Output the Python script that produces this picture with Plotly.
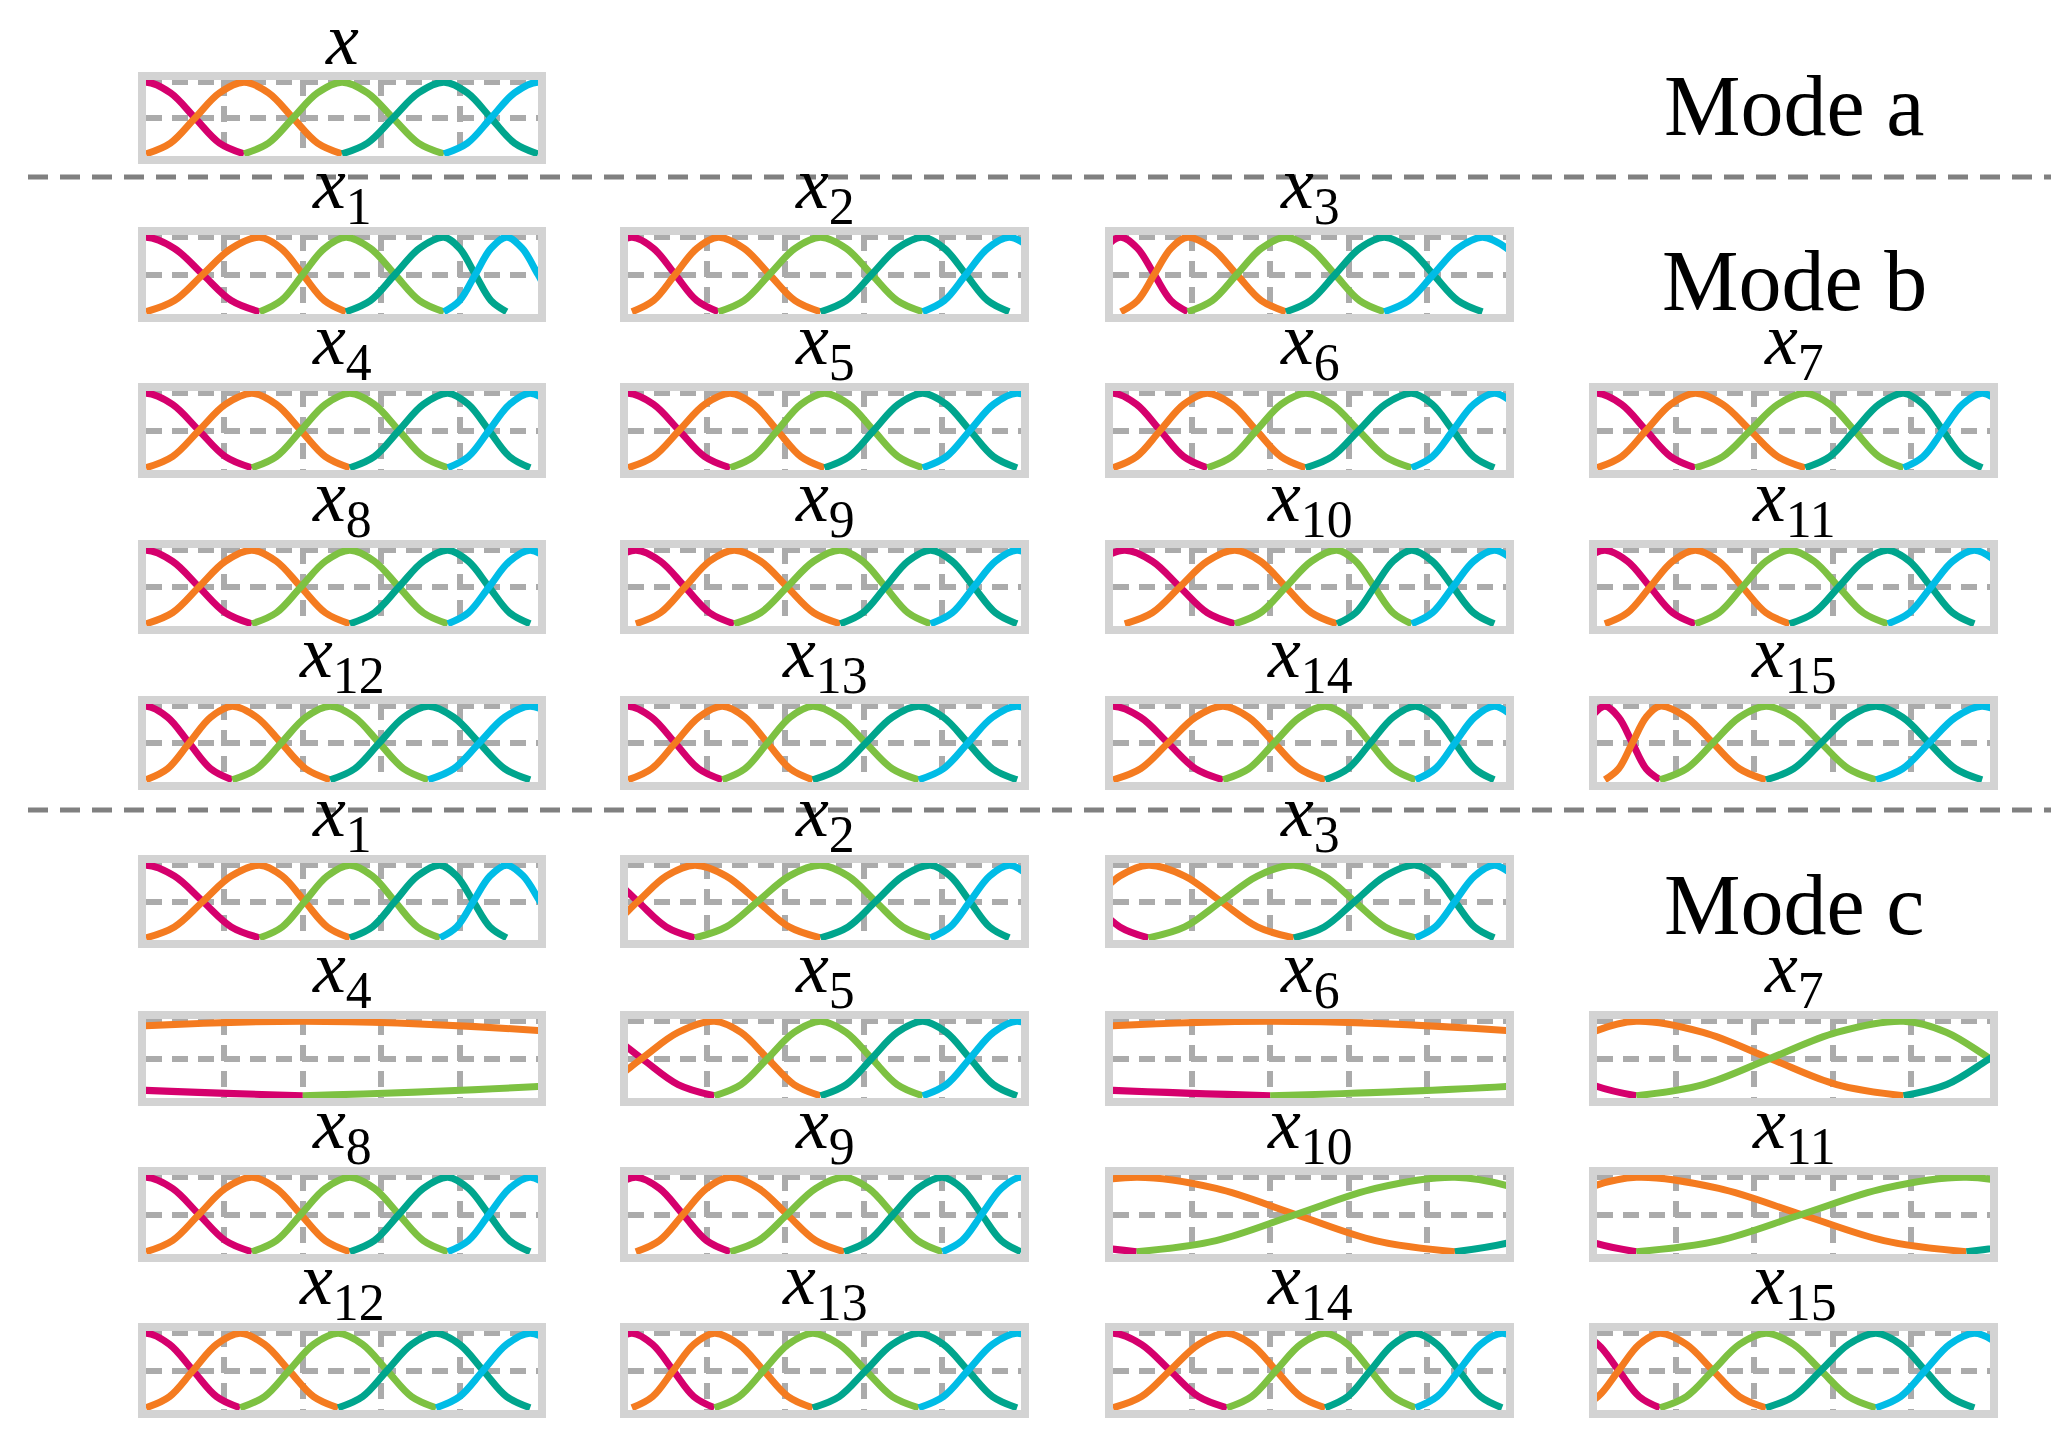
import plotly.graph_objects as go

W, H = 2059, 1449

curve_colors = ["#D5006D", "#F47B20", "#7DC142", "#00A58D", "#00BCE6"]

# shape of one half of a membership bump: position between neighbour peak and own peak -> level
bump_pos = [0.0, 0.25, 0.5, 0.75, 1.0]
bump_level = [0.0, 0.15, 0.5, 0.85, 1.0]

# peak positions of the five membership curves in every panel (fraction of panel width)
mode_a_peaks = [0.0, 0.25, 0.5, 0.76, 1.0]

mode_b_peaks = [
    [0.0, 0.29, 0.51, 0.76, 0.92],   # x1
    [0.01, 0.23, 0.49, 0.75, 0.97],  # x2
    [0.02, 0.19, 0.44, 0.69, 0.94],  # x3
    [0.0, 0.27, 0.52, 0.77, 0.98],   # x4
    [0.0, 0.26, 0.50, 0.75, 0.99],   # x5
    [0.0, 0.24, 0.49, 0.76, 0.97],   # x6
    [0.0, 0.25, 0.53, 0.78, 0.98],   # x7
    [0.0, 0.27, 0.52, 0.77, 0.98],   # x8
    [0.02, 0.27, 0.54, 0.77, 0.99],  # x9
    [0.03, 0.31, 0.57, 0.76, 0.97],  # x10
    [0.02, 0.25, 0.49, 0.74, 0.96],  # x11
    [0.0, 0.22, 0.47, 0.72, 0.98],   # x12
    [0.0, 0.24, 0.47, 0.74, 0.99],   # x13
    [0.0, 0.28, 0.54, 0.77, 0.97],   # x14
    [0.02, 0.16, 0.43, 0.71, 0.98],  # x15
]

mode_c_peaks = [
    [0.0, 0.29, 0.52, 0.75, 0.92],   # x1
    [-0.12, 0.17, 0.49, 0.77, 0.97], # x2
    [-0.2, 0.09, 0.46, 0.77, 0.97],  # x3
    [-2.3, 0.4, 3.1, 5.8, 8.5],      # x4
    [-0.15, 0.22, 0.49, 0.75, 0.99], # x5
    [-2.3, 0.4, 3.1, 5.8, 8.5],      # x6
    [-0.35, 0.1, 0.78, 1.22, 1.9],   # x7
    [0.0, 0.27, 0.52, 0.77, 0.98],   # x8
    [0.02, 0.26, 0.55, 0.80, 1.0],   # x9
    [-0.7, 0.06, 0.87, 1.5, 2.2],    # x10
    [-0.4, 0.1, 0.94, 1.6, 2.3],     # x11
    [0.0, 0.24, 0.49, 0.74, 0.98],   # x12
    [0.01, 0.22, 0.47, 0.74, 0.99],  # x13
    [0.0, 0.29, 0.54, 0.77, 0.99],   # x14
    [-0.05, 0.16, 0.43, 0.71, 0.96], # x15
]

panel_titles = ["<i>x</i><sub>%d</sub>" % i for i in range(1, 16)]
mode_labels = ["Mode a", "Mode b", "Mode c"]

# outer boxes of panels in pixels: columns (left,right), rows (top,bottom)
cols_px = [(130, 538), (612, 1021), (1097, 1506), (1581, 1990)]
rows_a = [(64, 156)]
rows_b = [(219, 314), (375, 470), (532, 626), (688, 782)]
rows_c = [(847, 940), (1003, 1098), (1159, 1254), (1315, 1410)]

BORDER = 8
SERIF = "Liberation Serif, Times New Roman, serif"

fig = go.Figure()
layout = {}
shapes = []
annotations = []
n_ax = [0]


def add_panel(peaks, title, col, row):
    n_ax[0] += 1
    k = n_ax[0]
    sfx = "" if k == 1 else str(k)
    l, r = cols_px[col]
    t, b = row
    grid = dict(showticklabels=False, ticks="", showgrid=True, gridcolor="#ABABAB",
                gridwidth=6, griddash="16px,10px", zeroline=False, showline=False,
                fixedrange=True)
    layout["xaxis" + sfx] = dict(domain=[(l + BORDER) / W, (r - BORDER) / W], range=[0, 1],
                                 anchor="y" + sfx, tickvals=[0.2, 0.4, 0.6, 0.8], **grid)
    layout["yaxis" + sfx] = dict(domain=[1 - (b - BORDER) / H, 1 - (t + BORDER) / H],
                                 range=[-0.03, 1.03], anchor="x" + sfx,
                                 tickvals=[0.5, 1.0], **grid)
    shapes.append(dict(type="rect", xref="paper", yref="paper",
                       x0=(l + BORDER / 2) / W, x1=(r - BORDER / 2) / W,
                       y0=1 - (b - BORDER / 2) / H, y1=1 - (t + BORDER / 2) / H,
                       line=dict(color="#D3D3D3", width=BORDER)))
    annotations.append(dict(text=title, xref="paper", yref="paper",
                            x=(l + r) / 2 / W, y=1 - (t + 10) / H,
                            xanchor="center", yanchor="bottom", showarrow=False,
                            font=dict(size=74, family=SERIF, color="black")))
    for i, c in enumerate(peaks):
        left = peaks[i - 1] if i > 0 else c - (peaks[1] - peaks[0])
        right = peaks[i + 1] if i < len(peaks) - 1 else c + (peaks[-1] - peaks[-2])
        xs = [left + (c - left) * p for p in bump_pos] + \
             [c + (right - c) * (1 - p) for p in bump_pos[::-1][1:]]
        ys = bump_level + bump_level[::-1][1:]
        fig.add_trace(go.Scatter(x=xs, y=ys, mode="lines", xaxis="x" + sfx, yaxis="y" + sfx,
                                 line=dict(color=curve_colors[i], width=7, shape="spline"),
                                 showlegend=False, hoverinfo="skip"))


add_panel(mode_a_peaks, "<i>x</i>", 0, rows_a[0])
for rows, peaks_list in ((rows_b, mode_b_peaks), (rows_c, mode_c_peaks)):
    for j, pk in enumerate(peaks_list):
        if j < 3:
            add_panel(pk, panel_titles[j], j, rows[0])
        else:
            q = j - 3
            add_panel(pk, panel_titles[j], q % 4, rows[1 + q // 4])

for ypx in (169, 802):
    shapes.append(dict(type="line", xref="paper", yref="paper", x0=20 / W, x1=2045 / W,
                       y0=1 - ypx / H, y1=1 - ypx / H,
                       line=dict(color="#808080", width=5, dash="20px,12px")))

for label, ypx in zip(mode_labels, (98, 273, 897)):
    annotations.append(dict(text=label, xref="paper", yref="paper", x=1786 / W, y=1 - ypx / H,
                            xanchor="center", yanchor="middle", showarrow=False,
                            font=dict(size=86, family=SERIF, color="black")))

fig.update_layout(**layout)
fig.update_layout(width=W, height=H, margin=dict(l=0, r=0, t=0, b=0),
                  paper_bgcolor="white", plot_bgcolor="white",
                  shapes=shapes, annotations=annotations)

fig.write_html("out.html")
